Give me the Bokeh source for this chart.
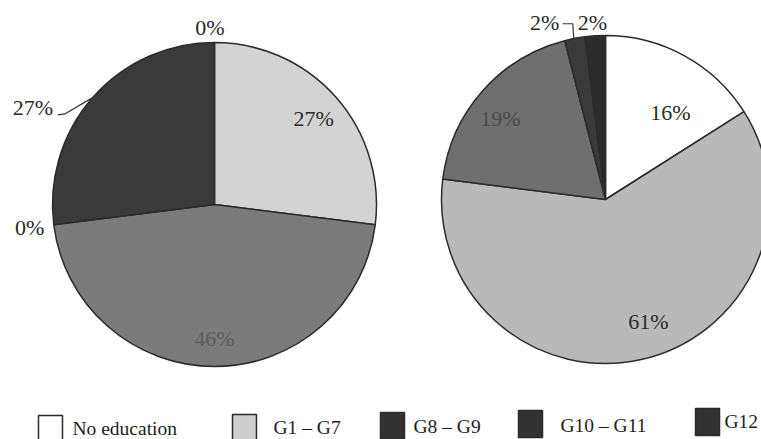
import numpy as np
from bokeh.plotting import figure
from bokeh.models import Range1d
from bokeh.embed import file_html
from bokeh.resources import INLINE
from bokeh.core.properties import value

# ---------------- data ----------------
categories = ["No education", "G1 – G7", "G8 – G9", "G10 – G11", "G12"]
left_values = [0, 27, 46, 0, 27]
right_values = [16, 61, 19, 2, 2]

# ---------------- style / layout ----------------
W, H = 761, 439
FONT = value("Liberation Serif")
EDGE = "#2b2b2b"

left_fills = ["#ffffff", "#d3d3d3", "#7b7b7b", "#3c3c3c", "#3a3a3a"]
right_fills = ["#ffffff", "#b9b9b9", "#6f6f6f", "#3a3a3a", "#2c2c2c"]
legend_fills = ["#ffffff", "#cdcdcd", "#323232", "#323232", "#323232"]

# label placement: (radius factor, angle nudge in degrees)
left_label_cfg = [(1.09, -1.5), (0.81, 0.5), (0.83, 0.0), (1.15, 0.0), (1.27, -13.4)]
right_label_cfg = [(0.66, 8.0), (0.79, -6.7), (0.81, -3.7), (1.14, -8.2), (1.08, -0.6)]
left_label_colors = ["#2a2a2a", "#2a2a2a", "#5c5c5c", "#2a2a2a", "#2a2a2a"]
right_label_colors = ["#2a2a2a", "#2a2a2a", "#4a4a4a", "#2a2a2a", "#2a2a2a"]

p = figure(width=W, height=H, x_range=Range1d(0, W), y_range=Range1d(0, H),
           output_backend="svg", toolbar_location=None, min_border=0,
           x_axis_location=None, y_axis_location=None)
p.grid.visible = False
p.outline_line_color = None
p.background_fill_color = "white"
p.border_fill_color = "white"


def Y(py):
    return H - py


def draw_pie(cx, cy, r, vals, fills, cfg, colors):
    v = np.asarray(vals, dtype=float)
    frac = v / v.sum()
    c1 = np.cumsum(frac)
    c0 = c1 - frac
    start = np.pi / 2 - 2 * np.pi * c1
    end = np.pi / 2 - 2 * np.pi * c0
    mask = v > 0
    p.wedge(x=cx, y=Y(cy), radius=r,
            start_angle=list(start[mask]), end_angle=list(end[mask]),
            fill_color=[f for f, m in zip(fills, mask) if m],
            line_color=EDGE, line_width=1.5)
    mids = (c0 + c1) / 2 * 2 * np.pi  # clockwise from top
    lx, ly, txt = [], [], []
    for i, val in enumerate(vals):
        fac, nud = cfg[i]
        th = mids[i] + np.deg2rad(nud)
        lx.append(cx + fac * r * np.sin(th))
        ly.append(Y(cy) + fac * r * np.cos(th))
        txt.append(f"{val}%")
    p.text(x=lx, y=ly, text=txt, text_font=FONT, text_font_size="22px",
           text_color=colors, text_align="center", text_baseline="middle")
    return mids, lx, ly


# left pie
lmids, llx, lly = draw_pie(214, 204, 162, left_values, left_fills,
                           left_label_cfg, left_label_colors)
# leader for G12 (last slice) on left pie
th = lmids[4]
ex, ey = 214 + 162 * np.sin(th), Y(204) + 162 * np.cos(th)
p.line(x=[llx[4] + 25, llx[4] + 32, ex], y=[lly[4] - 7, lly[4] - 6, ey],
       line_color="#333333", line_width=1.2)

# right pie
rmids, rlx, rly = draw_pie(605, 199, 164, right_values, right_fills,
                           right_label_cfg, right_label_colors)
# leader for G10-G11 on right pie
th = rmids[3]
ex, ey = 605 + 164 * np.sin(th), Y(199) + 164 * np.cos(th)
p.line(x=[rlx[3] + 18, ex - 2, ex - 1], y=[rly[3] - 1, rly[3] - 1, ey],
       line_color="#333333", line_width=1.2)

# legend
box_left = [38, 232, 380, 518, 695]
box_top = [415, 414, 412, 410, 408]
box_w, box_h = 24, 27
text_left = [72, 273, 413, 560, 724]
text_base = [428, 427, 425.5, 425, 421]
p.quad(left=box_left, right=[b + box_w for b in box_left],
       top=[Y(t) for t in box_top], bottom=[Y(t + box_h) for t in box_top],
       fill_color=legend_fills, line_color="#2b2b2b", line_width=1.5)
p.text(x=text_left, y=[Y(t) for t in text_base], text=categories,
       text_font=FONT, text_font_size="19.5px", text_color="#1e1e1e",
       text_align="left", text_baseline="alphabetic")

open("out.html", "w").write(file_html(p, INLINE))
